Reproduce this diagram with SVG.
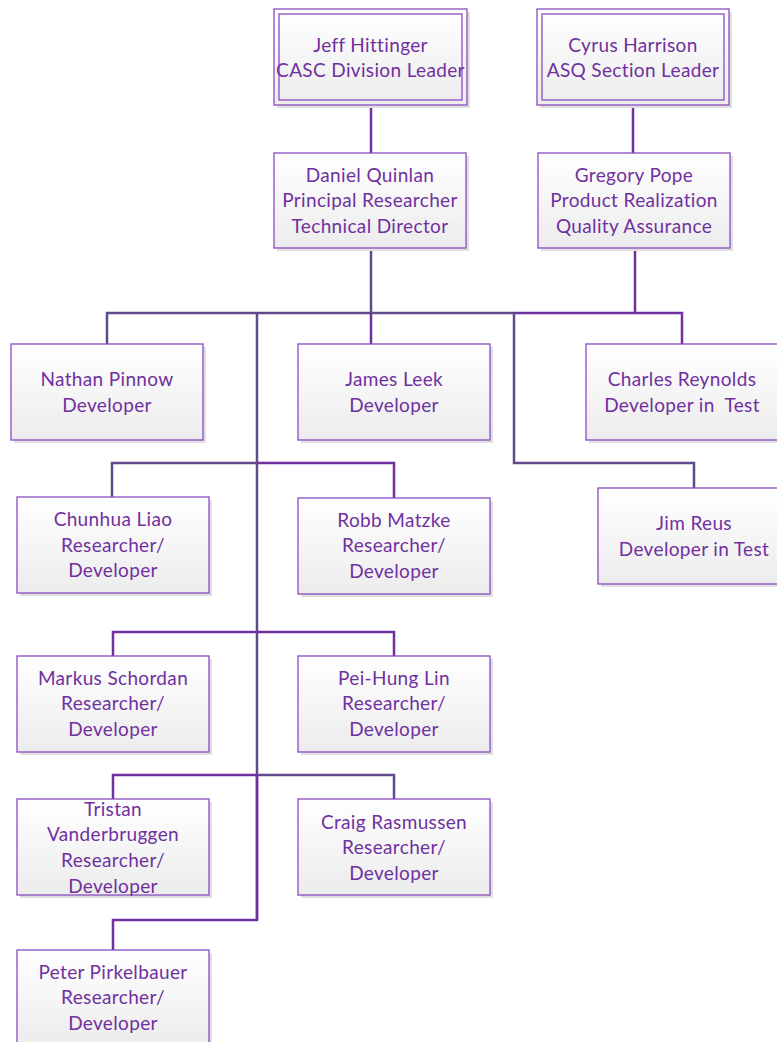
<svg xmlns="http://www.w3.org/2000/svg" width="777" height="1042" viewBox="0 0 777 1042">
  <defs>
    <linearGradient id="boxFill" x1="0" y1="0" x2="0" y2="1">
      <stop offset="0" stop-color="#ffffff"/>
      <stop offset="1" stop-color="#ececec"/>
    </linearGradient>
    <style>
      .shadow { fill: #e0e0e0; }
      .box { fill: url(#boxFill); stroke: #8a4cc0; stroke-width: 1.3; }
      .inner { fill: none; stroke: #8a4cc0; stroke-width: 1.3; }
      .label { font-family: Lato, "Liberation Sans", sans-serif; font-size: 19px; letter-spacing: 0.35px; fill: #7030a0; text-anchor: middle; white-space: pre; }
      .c1 { fill: none; stroke: #5f4a8b; stroke-width: 2.5; }
      .c2 { fill: none; stroke: #7030a0; stroke-width: 2.5; }
    </style>
  </defs>

  <rect width="777" height="1042" fill="#ffffff"/>

  <!-- connectors -->
  <g id="connectors">
    <path class="c2" d="M371,105 V153"/>
    <path class="c2" d="M633,105 V153"/>
    <path class="c1" d="M371,248 V313"/>
    <path class="c2" d="M635,248 V313"/>
    <path class="c1" d="M107,344 V313 H514"/>
    <path class="c2" d="M514,313 H682 V344"/>
    <path class="c2" d="M371,313 V344"/>
    <path class="c1" d="M514,313 V463 H694 V488"/>
    <path class="c1" d="M257,313 V920"/>
    <path class="c1" d="M112,497 V463 H257"/>
    <path class="c2" d="M257,463 H394 V498"/>
    <path class="c2" d="M113,656 V632 H394 V656"/>
    <path class="c2" d="M113,799 V775 H257"/>
    <path class="c1" d="M257,775 H394 V799"/>
    <path class="c2" d="M113,950 V920 H257 V775"/>
  </g>

  <!-- Jeff Hittinger -->
  <g id="jeff-hittinger">
    <rect class="shadow" x="277" y="12" width="193" height="96"/>
    <rect class="box" x="274" y="9" width="193" height="96"/>
    <rect class="inner" x="279" y="14" width="183" height="86"/>
    <text class="label"><tspan x="370.5" y="52">Jeff Hittinger</tspan><tspan x="370.5" y="77">CASC Division Leader</tspan></text>
  </g>

  <!-- Cyrus Harrison -->
  <g id="cyrus-harrison">
    <rect class="shadow" x="540" y="12" width="192" height="96"/>
    <rect class="box" x="537" y="9" width="192" height="96"/>
    <rect class="inner" x="542" y="14" width="182" height="86"/>
    <text class="label"><tspan x="633" y="52">Cyrus Harrison</tspan><tspan x="633" y="77">ASQ Section Leader</tspan></text>
  </g>

  <!-- Daniel Quinlan -->
  <g id="daniel-quinlan">
    <rect class="shadow" x="277" y="156" width="192" height="95"/>
    <rect class="box" x="274" y="153" width="192" height="95"/>
    <text class="label"><tspan x="370" y="182">Daniel Quinlan</tspan><tspan x="370" y="207">Principal Researcher</tspan><tspan x="370" y="233">Technical Director</tspan></text>
  </g>

  <!-- Gregory Pope -->
  <g id="gregory-pope">
    <rect class="shadow" x="541" y="156" width="192" height="95"/>
    <rect class="box" x="538" y="153" width="192" height="95"/>
    <text class="label"><tspan x="634" y="182">Gregory Pope</tspan><tspan x="634" y="207">Product Realization</tspan><tspan x="634" y="233">Quality Assurance</tspan></text>
  </g>

  <!-- Nathan Pinnow -->
  <g id="nathan-pinnow">
    <rect class="shadow" x="14" y="347" width="192" height="96"/>
    <rect class="box" x="11" y="344" width="192" height="96"/>
    <text class="label"><tspan x="107" y="386">Nathan Pinnow</tspan><tspan x="107" y="412">Developer</tspan></text>
  </g>

  <!-- James Leek -->
  <g id="james-leek">
    <rect class="shadow" x="301" y="347" width="192" height="96"/>
    <rect class="box" x="298" y="344" width="192" height="96"/>
    <text class="label"><tspan x="394" y="386">James Leek</tspan><tspan x="394" y="412">Developer</tspan></text>
  </g>

  <!-- Charles Reynolds -->
  <g id="charles-reynolds">
    <rect class="shadow" x="589" y="347" width="192" height="96"/>
    <rect class="box" x="586" y="344" width="192" height="96"/>
    <text class="label"><tspan x="682" y="386">Charles Reynolds</tspan><tspan x="682" y="412">Developer in  Test</tspan></text>
  </g>

  <!-- Chunhua Liao -->
  <g id="chunhua-liao">
    <rect class="shadow" x="20" y="500" width="192" height="96"/>
    <rect class="box" x="17" y="497" width="192" height="96"/>
    <text class="label"><tspan x="113" y="526">Chunhua Liao</tspan><tspan x="113" y="552">Researcher/</tspan><tspan x="113" y="577">Developer</tspan></text>
  </g>

  <!-- Robb Matzke -->
  <g id="robb-matzke">
    <rect class="shadow" x="301" y="501" width="192" height="96"/>
    <rect class="box" x="298" y="498" width="192" height="96"/>
    <text class="label"><tspan x="394" y="527">Robb Matzke</tspan><tspan x="394" y="552">Researcher/</tspan><tspan x="394" y="578">Developer</tspan></text>
  </g>

  <!-- Jim Reus -->
  <g id="jim-reus">
    <rect class="shadow" x="601" y="491" width="192" height="96"/>
    <rect class="box" x="598" y="488" width="192" height="96"/>
    <text class="label"><tspan x="694" y="530">Jim Reus</tspan><tspan x="694" y="556">Developer in Test</tspan></text>
  </g>

  <!-- Markus Schordan -->
  <g id="markus-schordan">
    <rect class="shadow" x="20" y="659" width="192" height="96"/>
    <rect class="box" x="17" y="656" width="192" height="96"/>
    <text class="label"><tspan x="113" y="685">Markus Schordan</tspan><tspan x="113" y="710">Researcher/</tspan><tspan x="113" y="736">Developer</tspan></text>
  </g>

  <!-- Pei-Hung Lin -->
  <g id="pei-hung-lin">
    <rect class="shadow" x="301" y="659" width="192" height="96"/>
    <rect class="box" x="298" y="656" width="192" height="96"/>
    <text class="label"><tspan x="394" y="685">Pei-Hung Lin</tspan><tspan x="394" y="710">Researcher/</tspan><tspan x="394" y="736">Developer</tspan></text>
  </g>

  <!-- Tristan Vanderbruggen -->
  <g id="tristan-vanderbruggen">
    <rect class="shadow" x="20" y="802" width="192" height="96"/>
    <rect class="box" x="17" y="799" width="192" height="96"/>
    <text class="label"><tspan x="113" y="816">Tristan</tspan><tspan x="113" y="841">Vanderbruggen</tspan><tspan x="113" y="867">Researcher/</tspan><tspan x="113" y="893">Developer</tspan></text>
  </g>

  <!-- Craig Rasmussen -->
  <g id="craig-rasmussen">
    <rect class="shadow" x="301" y="802" width="192" height="96"/>
    <rect class="box" x="298" y="799" width="192" height="96"/>
    <text class="label"><tspan x="394" y="829">Craig Rasmussen</tspan><tspan x="394" y="854">Researcher/</tspan><tspan x="394" y="880">Developer</tspan></text>
  </g>

  <!-- Peter Pirkelbauer -->
  <g id="peter-pirkelbauer">
    <rect class="shadow" x="20" y="953" width="192" height="96"/>
    <rect class="box" x="17" y="950" width="192" height="96"/>
    <text class="label"><tspan x="113" y="979">Peter Pirkelbauer</tspan><tspan x="113" y="1004">Researcher/</tspan><tspan x="113" y="1030">Developer</tspan></text>
  </g>
</svg>
